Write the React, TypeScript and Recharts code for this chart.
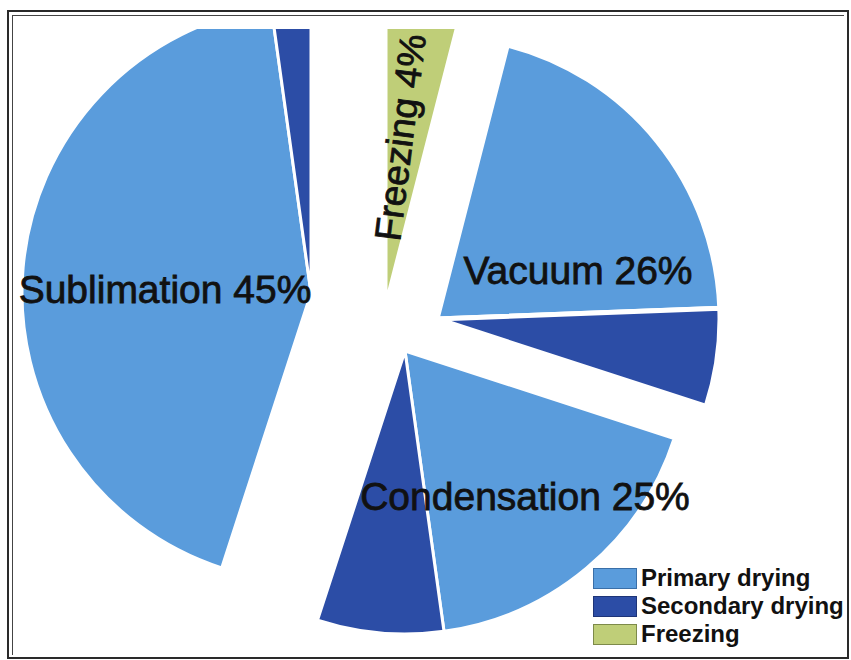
import React from 'react';
import { PieChart, Pie, Cell, Legend } from 'recharts';

// ---- data ----
const groupNames = ['Freezing', 'Vacuum', 'Condensation', 'Sublimation'];
const groupPercents = [4, 26, 25, 45];
const primaryShare = [0, 20.4, 17.8, 42.8];
const secondaryShare = [0, 5.6, 7.2, 2.2];
const freezingShare = [4, 0, 0, 0];
const legendLabels = ['Primary drying', 'Secondary drying', 'Freezing'];

// ---- styling / layout ----
const COLORS: Record<string, string> = {
  primary: '#5A9CDC',
  secondary: '#2C4DA6',
  freezing: '#BFCE78',
};
const LEGEND_COLORS = [COLORS.primary, COLORS.secondary, COLORS.freezing];
const LEGEND_BORDERS = ['#3A6FA8', '#1E3578', '#7D8A4A'];
const BASE = { x: 385, y: 312 };
const EXPLODE: [number, number][] = [[1, -10], [52, 7], [20, 39], [-74, -19]];
const RADII = [283, 283, 283, 289];
// dx, dy (from group centre), rotation, font size
const LABEL_POS: [number, number, number, number][] = [
  [27, -163, -82.8, 37],
  [141, -35, 0, 39],
  [120, 159, 0, 39],
  [-146, 10, 0, 39],
];
const FONT = '"Liberation Sans", Arial, sans-serif';

type Slice = { name: string; value: number; kind: string };

const groupData: Slice[][] = groupNames.map((g, i) => {
  const arr: Slice[] = [];
  if (freezingShare[i] > 0) arr.push({ name: g, value: freezingShare[i], kind: 'freezing' });
  if (primaryShare[i] > 0) arr.push({ name: g + ' primary', value: primaryShare[i], kind: 'primary' });
  if (secondaryShare[i] > 0) arr.push({ name: g + ' secondary', value: secondaryShare[i], kind: 'secondary' });
  return arr;
});

const cumStart: number[] = groupPercents.map((_, i) => groupPercents.slice(0, i).reduce((a, b) => a + b, 0));

const makeLabel = (gi: number) => (props: any) => {
  if (props.index !== 0) return null;
  const [dx, dy, rot, fs] = LABEL_POS[gi];
  const x = props.cx + dx;
  const y = props.cy + dy;
  return (
    <text
      key={'lbl' + gi}
      x={x}
      y={y}
      textAnchor="middle"
      fontFamily={FONT}
      fontSize={fs}
      fill="#111"
      stroke="#111"
      strokeWidth={0.8}
      transform={rot ? `rotate(${rot} ${x} ${y})` : undefined}
    >
      {`${groupNames[gi]} ${groupPercents[gi]}%`}
    </text>
  );
};

const LegendContent = () => (
  <div style={{ fontFamily: FONT, fontWeight: 'bold', fontSize: 24, color: '#111' }}>
    {legendLabels.map((l, i) => (
      <div key={l} style={{ display: 'flex', alignItems: 'center', height: 28, lineHeight: '28px' }}>
        <span
          style={{
            display: 'inline-block',
            width: 42,
            height: 19,
            background: LEGEND_COLORS[i],
            border: `1px solid ${LEGEND_BORDERS[i]}`,
            marginRight: 4,
          }}
        />
        <span style={{ whiteSpace: 'nowrap' }}>{l}</span>
      </div>
    ))}
  </div>
);

export default function App() {
  const CLIP_TOP = 29;
  return (
    <div style={{ position: 'absolute', left: 0, top: 0, width: 851, height: 660, background: '#fff', overflow: 'hidden' }}>
      <div style={{ position: 'absolute', left: 0, top: CLIP_TOP, width: 851, height: 660 - CLIP_TOP, overflow: 'hidden' }}>
        <div style={{ position: 'absolute', left: 0, top: -CLIP_TOP }}>
          <PieChart width={851} height={660} margin={{ top: 0, right: 0, bottom: 0, left: 0 }}>
            {groupData.map((data, gi) => (
              <Pie
                key={groupNames[gi]}
                data={data}
                dataKey="value"
                nameKey="name"
                cx={BASE.x + EXPLODE[gi][0]}
                cy={BASE.y + EXPLODE[gi][1]}
                innerRadius={0}
                outerRadius={RADII[gi]}
                startAngle={90 - 3.6 * cumStart[gi]}
                endAngle={90 - 3.6 * (cumStart[gi] + groupPercents[gi])}
                stroke="#fff"
                strokeWidth={gi === 1 ? 5 : 3}
                paddingAngle={0}
                isAnimationActive={false}
                labelLine={false}
                label={makeLabel(gi)}
              >
                {data.map((d) => (
                  <Cell key={d.name} fill={COLORS[d.kind]} />
                ))}
              </Pie>
            ))}
            <Legend
              verticalAlign="bottom"
              align="right"
              layout="vertical"
              wrapperStyle={{ position: 'absolute', left: 593, top: 564, width: 258, height: 86 }}
              content={<LegendContent />}
            />
          </PieChart>
        </div>
      </div>
      {/* frame */}
      <div style={{ position: 'absolute', left: 7, top: 10, width: 842, height: 649, border: '2.5px solid #2a2a2a', boxSizing: 'border-box', pointerEvents: 'none' }} />
      <div style={{ position: 'absolute', left: 12, top: 15, width: 832, height: 1, background: '#444' }} />
      <div style={{ position: 'absolute', left: 12, top: 15, width: 1, height: 640, background: '#444' }} />
    </div>
  );
}
